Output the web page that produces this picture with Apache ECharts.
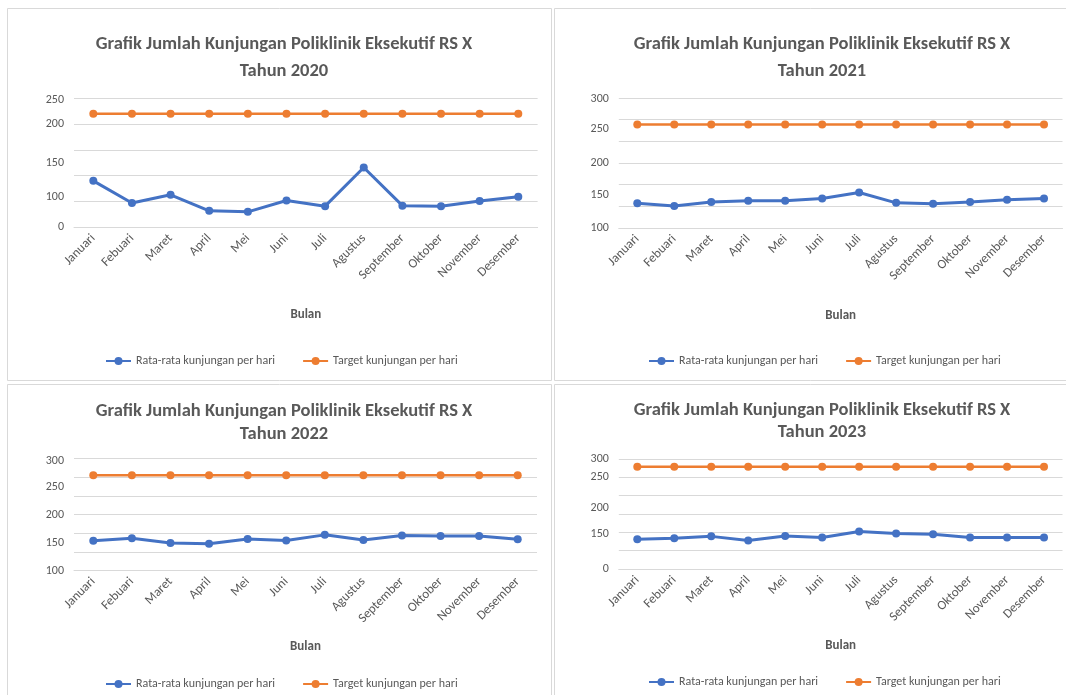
<!DOCTYPE html>
<html>
<head>
<meta charset="utf-8">
<script src="https://cdn.jsdelivr.net/npm/echarts@6/dist/echarts.min.js"></script>
<style>
html,body{margin:0;padding:0;background:#fff;}
#c{width:1066px;height:695px;}
</style>
</head>
<body>
<div id="c"></div>
<script>
// ---- data ----
const months = ['Januari','Febuari','Maret','April','Mei','Juni','Juli','Agustus','September','Oktober','November','Desember'];
const seriesNames = ['Rata-rata kunjungan per hari','Target kunjungan per hari'];
const years = ['2020','2021','2022','2023'];

const rata2020 = [90,47,63,32,30,52,41,116,42,41,51,59];
const target2020 = [220,220,220,220,220,220,220,220,220,220,220,220];
const rata2021 = [57,51,60,63,63,68,82,58,56,60,65,68];
const target2021 = [239,239,239,239,239,239,239,239,239,239,239,239];
const rata2022 = [80,87,74,72,85,81,96,82,94,93,93,84];
const target2022 = [256,256,256,256,256,256,256,256,256,256,256,256];
const rata2023 = [81,84,89,78,90,86,102,97,95,86,86,86];
const target2023 = [279,279,279,279,279,279,279,279,279,279,279,279];

// y-axis tick labels (as printed), one per grid tick from min upward
const yTicks2020 = ['0','100','150','','200','250'];
const yTicks2021 = ['100','150','','200','250','','300'];
const yTicks2022 = ['100','150','','200','','250','300'];
const yTicks2023 = ['0','','150','200','','250','300'];

// ---- layout / style ----
const FONT = 'Carlito, "Liberation Sans Narrow", "DejaVu Sans Condensed", sans-serif';
const GRAY = '#595959';
const BLUE = '#4472C4';
const ORANGE = '#ED7D31';
const GRID_LINE = '#D9D9D9';

const panels = [
  {rata: rata2020, target: target2020, ticks: yTicks2020, max: 250, interval: 50,
   shift: [0,-5,-13,0,0,2],
   grid: {left: 74, top: 98.3, width: 463.6, height: 129},
   titleX: 279, titleY: 25.5, titleLH: 27, legendX: 100, legendY: 350, nameGap: 81},
  {rata: rata2021, target: target2021, ticks: yTicks2021, max: 300, interval: 50,
   shift: [0,-11,0,0,-12,0,1],
   grid: {left: 618.8, top: 98, width: 443.7, height: 130},
   titleX: 817, titleY: 25.5, titleLH: 27, legendX: 643, legendY: 350, nameGap: 81},
  {rata: rata2022, target: target2022, ticks: yTicks2022, max: 300, interval: 50,
   shift: [0,-9,0,0,0,10,2],
   grid: {left: 74, top: 458.7, width: 463, height: 112},
   titleX: 279, titleY: 395, titleLH: 23, legendX: 100, legendY: 673, nameGap: 70},
  {rata: rata2023, target: target2023, ticks: yTicks2023, max: 300, interval: 50,
   shift: [0,0,2,-6,0,0,0],
   grid: {left: 618.8, top: 459, width: 443.7, height: 110},
   titleX: 817, titleY: 394, titleLH: 22, legendX: 643, legendY: 671, nameGap: 70}
];

function richFor(p) {
  const rich = {};
  p.shift.forEach((s, i) => {
    const pad = s < 0 ? [0, 0, -2 * s, 0] : [2 * s, 0, 0, 0];
    rich['s' + i] = {color: GRAY, fontSize: 12, fontFamily: FONT, padding: pad};
  });
  return rich;
}

const option = {
  backgroundColor: '#fff',
  animation: false,
  title: [], grid: [], xAxis: [], yAxis: [], series: [], legend: [],
  graphic: [
    {type: 'rect', shape: {x: 7.5, y: 8.5, width: 544, height: 372}, style: {fill: 'none', stroke: GRID_LINE, lineWidth: 1}},
    {type: 'rect', shape: {x: 554.5, y: 8.5, width: 530, height: 372}, style: {fill: 'none', stroke: GRID_LINE, lineWidth: 1}},
    {type: 'rect', shape: {x: 7.5, y: 384.5, width: 544, height: 400}, style: {fill: 'none', stroke: GRID_LINE, lineWidth: 1}},
    {type: 'rect', shape: {x: 554.5, y: 384.5, width: 530, height: 400}, style: {fill: 'none', stroke: GRID_LINE, lineWidth: 1}}
  ]
};

panels.forEach((p, i) => {
  option.title.push({
    text: 'Grafik Jumlah Kunjungan Poliklinik Eksekutif RS X\nTahun ' + years[i],
    left: p.titleX, top: p.titleY, textAlign: 'center',
    textStyle: {fontFamily: FONT, fontSize: 18.5, fontWeight: 'bold', color: GRAY, lineHeight: p.titleLH}
  });
  option.grid.push(Object.assign({containLabel: false}, p.grid));
  option.xAxis.push({
    type: 'category', gridIndex: i, data: months, boundaryGap: true,
    axisTick: {show: false},
    axisLine: {lineStyle: {color: GRID_LINE, width: 1}},
    axisLabel: {rotate: 45, color: GRAY, fontSize: 13, fontFamily: FONT, margin: 9, interval: 0},
    name: 'Bulan', nameLocation: 'middle', nameGap: p.nameGap,
    nameTextStyle: {fontFamily: FONT, fontSize: 13, fontWeight: 'bold', color: GRAY}
  });
  const ticks = p.ticks;
  const interval = p.interval;
  option.yAxis.push({
    type: 'value', gridIndex: i, min: 0, max: p.max, interval: interval,
    axisLine: {show: false}, axisTick: {show: false},
    splitLine: {lineStyle: {color: GRID_LINE, width: 1}},
    axisLabel: {
      margin: 10, color: GRAY, fontSize: 12, fontFamily: FONT,
      formatter: function (v) {
        const k = Math.round(v / interval);
        const t = ticks[k] || '';
        if (!t) return '';
        return '{s' + k + '|' + t + '}';
      },
      rich: richFor(p)
    }
  });
  option.series.push({
    name: seriesNames[0], type: 'line', xAxisIndex: i, yAxisIndex: i, data: p.rata,
    symbol: 'circle', symbolSize: 8, lineStyle: {color: BLUE, width: 3}, itemStyle: {color: BLUE}
  });
  option.series.push({
    name: seriesNames[1], type: 'line', xAxisIndex: i, yAxisIndex: i, data: p.target,
    symbol: 'circle', symbolSize: 8, lineStyle: {color: ORANGE, width: 2.5}, itemStyle: {color: ORANGE}
  });
  option.legend.push({
    data: seriesNames, left: p.legendX, top: p.legendY, itemGap: 27,
    itemWidth: 25, itemHeight: 10,
    textStyle: {fontFamily: FONT, fontSize: 12, color: GRAY}
  });
});

const chart = echarts.init(document.getElementById('c'), null, {renderer: 'canvas'});
chart.setOption(option);
</script>
</body>
</html>
